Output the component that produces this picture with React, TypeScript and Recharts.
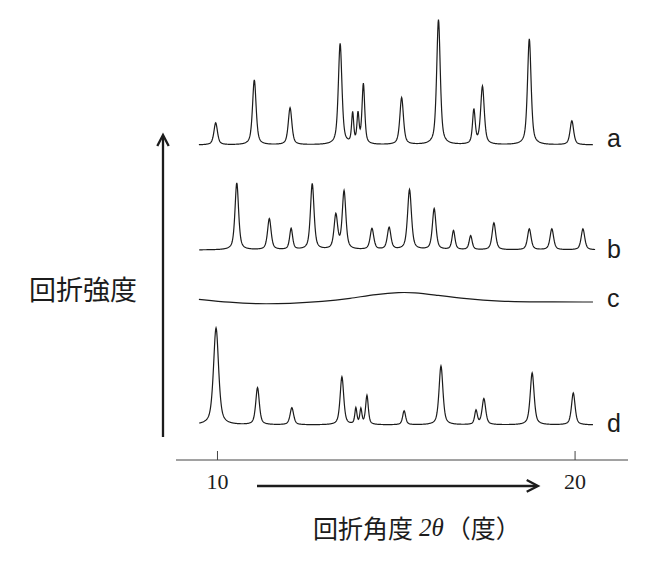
import React from 'react';
import { LineChart, Line, XAxis, YAxis } from 'recharts';

// 2θ positions (deg), apparent heights and widths of the diffraction peaks, per sample
const peaksA = [9.95, 11.03, 12.03, 13.43, 13.78, 13.93, 14.08, 15.15, 16.18, 17.17, 17.41, 18.72, 19.91];
const heightsA = [22, 65, 37, 101, 30, 29, 60, 47, 125, 34, 58, 106, 24];
const widthsA = [0.12, 0.12, 0.12, 0.12, 0.07, 0.07, 0.09, 0.12, 0.12, 0.09, 0.12, 0.12, 0.12];

const peaksB = [10.54, 11.45, 12.06, 12.65, 13.31, 13.54, 14.32, 14.8, 15.37, 16.06, 16.6, 17.08, 17.73, 18.72, 19.35, 20.22];
const heightsB = [67, 31, 21, 66, 34, 58, 21, 22, 60, 41, 19, 14, 27, 21, 21, 21];
const widthsB = [0.12, 0.12, 0.1, 0.12, 0.12, 0.12, 0.12, 0.12, 0.13, 0.12, 0.1, 0.1, 0.12, 0.12, 0.12, 0.12];

const peaksD = [9.96, 11.12, 12.08, 13.48, 13.87, 14.01, 14.18, 15.22, 16.25, 17.23, 17.45, 18.8, 19.95];
const heightsD = [97, 37, 17, 48, 16, 15, 29, 14, 59, 14, 26, 52, 32];
const widthsD = [0.17, 0.12, 0.12, 0.12, 0.07, 0.07, 0.09, 0.1, 0.13, 0.09, 0.12, 0.13, 0.12];

// amorphous sample c: broad hump
const humpX = [9.48, 10.35, 11.1, 12.03, 12.95, 13.71, 14.45, 15.1, 15.5, 16.03, 16.97, 17.9, 18.83, 20.5];
const humpY = [160.7, 157.5, 156, 156.5, 158.3, 161.5, 165.8, 167.8, 167.4, 165.2, 161, 158.7, 158, 158];

// baselines (offsets) of the stacked patterns
const baseA = 315;
const baseB = 210;
const baseD = 35;

const xTicks = [10, 20];
const seriesLabels = ['a', 'b', 'c', 'd'];

const pv = (dx: number, fwhm: number) => {
  const g = fwhm / 2;
  const lor = 1 / (1 + (dx / g) * (dx / g));
  const gau = Math.exp(-4 * Math.LN2 * (dx / fwhm) * (dx / fwhm));
  return 0.6 * lor + 0.4 * gau;
};

function pattern(pos: number[], hts: number[], fwhm: number[], base: number, from: number, to: number) {
  const out: { x: number; y: number }[] = [];
  for (let i = 0; i <= Math.round((to - from) / 0.01); i++) {
    const x = from + i * 0.01;
    let y = base;
    pos.forEach((p, k) => {
      y += hts[k] * pv(x - p, fwhm[k]);
    });
    out.push({ x: +x.toFixed(3), y });
  }
  return out;
}

const dataA = pattern(peaksA, heightsA, widthsA, baseA, 9.48, 20.5);
const dataB = pattern(peaksB, heightsB, widthsB, baseB, 9.49, 20.56);
const dataD = pattern(peaksD, heightsD, widthsD, baseD, 9.49, 20.5);
const dataC = humpX.map((x, i) => ({ x, y: humpY[i] }));

const ink = '#1c1c1c';
const cjk = '"Noto Sans CJK JP", "Noto Sans CJK SC", sans-serif';

export default function App() {
  return (
    <div style={{ position: 'absolute', left: 0, top: 0, width: 666, height: 572, background: '#fff' }}>
      <LineChart width={666} height={572} margin={{ top: 10, right: 38, bottom: 0, left: 176 }}>
        <XAxis
          dataKey="x"
          type="number"
          domain={[8.84, 21.48]}
          ticks={xTicks}
          allowDataOverflow
          height={112}
          stroke="#444"
          tickSize={-9}
          tickMargin={22}
          tick={{ fontSize: 22, fontFamily: '"Liberation Serif", serif', fill: ink }}
        />
        <YAxis hide type="number" domain={[0, 450]} allowDataOverflow />
        <Line data={dataA} dataKey="y" type="linear" stroke={ink} strokeWidth={1.2} dot={false} isAnimationActive={false} />
        <Line data={dataB} dataKey="y" type="linear" stroke={ink} strokeWidth={1.2} dot={false} isAnimationActive={false} />
        <Line data={dataC} dataKey="y" type="basis" stroke={ink} strokeWidth={1.2} dot={false} isAnimationActive={false} />
        <Line data={dataD} dataKey="y" type="linear" stroke={ink} strokeWidth={1.2} dot={false} isAnimationActive={false} />
      </LineChart>

      <svg width={666} height={572} style={{ position: 'absolute', left: 0, top: 0, pointerEvents: 'none' }}>
        {/* intensity arrow */}
        <line x1={163} y1={437} x2={163} y2={136} stroke={ink} strokeWidth={2.3} />
        <polyline points="157.3,146 163,135 168.7,146" fill="none" stroke={ink} strokeWidth={2.3} />
        {/* angle arrow */}
        <line x1={257} y1={486} x2={537} y2={486} stroke={ink} strokeWidth={2.3} />
        <polyline points="526.7,480 538,486 526.7,491.8" fill="none" stroke={ink} strokeWidth={2.3} />

        <text x={83} y={288} textAnchor="middle" dominantBaseline="central" fontSize={27} fontFamily={cjk} fill={ink}>
          回折強度
        </text>
        <text x={313} y={527} dominantBaseline="central" fontSize={25} fill={ink}>
          <tspan fontFamily={cjk}>回折角度</tspan>
          <tspan fontFamily='"Liberation Serif", serif' fontStyle="italic" dx={6}>2θ</tspan>
          <tspan fontFamily={cjk} dx={2}>（度）</tspan>
        </text>

        {seriesLabels.map((s, i) => (
          <text key={s} x={607} y={[147, 258, 307, 432][i]} fontSize={25} fontFamily='"Liberation Sans", Arial, sans-serif' fill={ink}>
            {s}
          </text>
        ))}
      </svg>
    </div>
  );
}
